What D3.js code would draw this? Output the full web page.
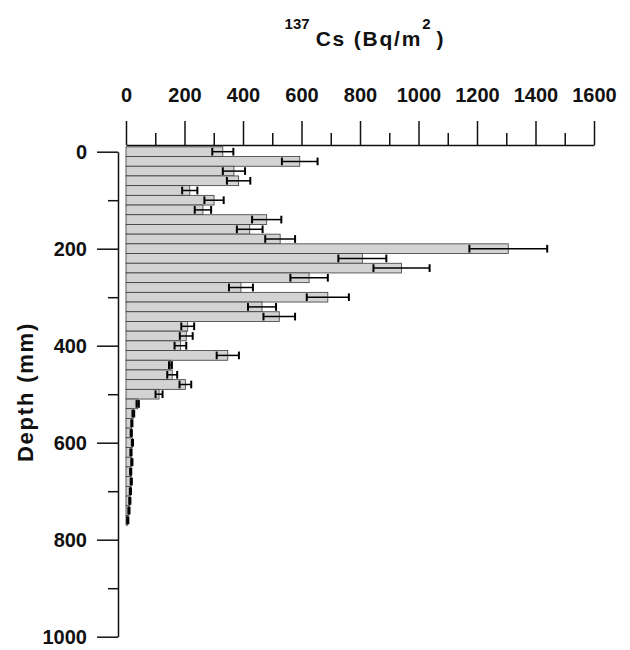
<!DOCTYPE html>
<html lang="en">
<head>
    <meta charset="UTF-8">
    <title>137Cs depth profile</title>
    <script src="https://d3js.org/d3.v7.min.js"></script>
    <style>
        body {
            margin: 0;
            background: #fff;
            font-family: "Liberation Sans", Arial, sans-serif;
        }
        .axis text {
            font-family: "Liberation Sans", Arial, sans-serif;
            font-size: 20px;
            font-weight: bold;
            fill: #111;
        }
        .axis path, .axis line {
            stroke: #111;
            stroke-width: 1.5;
        }
    </style>
</head>
<body>
    <svg id="chart" width="630" height="650"></svg>

    <script>
        // sample mid-depths (mm)
        const depthMid = [0, 20, 40, 60, 80, 100, 120, 140, 160, 180,
                          200, 220, 240, 260, 280, 300, 320, 340, 360, 380,
                          400, 420, 440, 460, 480, 500, 520, 540, 560, 580,
                          600, 620, 640, 660, 680, 700, 720, 740, 760];
        // 137Cs inventory per slice (Bq/m2)
        const activity = [331, 594, 369, 385, 218, 301, 263, 481, 423, 527,
                          1307, 808, 942, 626, 393, 690, 465, 524, 211, 206,
                          186, 348, 152, 158, 203, 113, 40, 25, 20, 18,
                          22, 17, 20, 16, 18, 15, 13, 10, 6];
        // one-sided error (Bq/m2)
        const activityErr = [36, 61, 38, 40, 26, 33, 28, 50, 44, 51,
                             133, 82, 96, 64, 41, 72, 48, 54, 22, 22,
                             20, 38, 5, 17, 20, 12, 4, 3, 2, 2,
                             2, 2, 2, 2, 2, 2, 2, 2, 2];
        const sliceWidth = 20;

        const xTicks = [0, 200, 400, 600, 800, 1000, 1200, 1400, 1600];
        const xMinorTicks = [100, 300, 500, 700, 900, 1100, 1300, 1500];
        const yTicks = [0, 200, 400, 600, 800, 1000];
        const yMinorTicks = [100, 300, 500, 700, 900];

        const svg = d3.select("#chart");

        const x = d3.scaleLinear().domain([0, 1600]).range([126, 594]);
        const y = d3.scaleLinear().domain([0, 1000]).range([151.7, 636.7]);

        const rows = depthMid.map((d, i) => ({ depth: d, value: activity[i], err: activityErr[i] }));

        // bars
        svg.append("g").selectAll("rect")
            .data(rows)
            .enter().append("rect")
            .attr("x", x(0))
            .attr("y", d => y(d.depth - sliceWidth / 2))
            .attr("width", d => x(d.value) - x(0))
            .attr("height", y(sliceWidth) - y(0))
            .attr("fill", "#d3d3d3")
            .attr("stroke", "#3a3a3a")
            .attr("stroke-width", 0.8);

        // error bars
        const errG = svg.append("g").attr("stroke", "#000");
        errG.selectAll(".err-line")
            .data(rows)
            .enter().append("line")
            .attr("class", "err-line")
            .attr("x1", d => x(d.value - d.err))
            .attr("x2", d => x(d.value + d.err))
            .attr("y1", d => y(d.depth))
            .attr("y2", d => y(d.depth))
            .attr("stroke-width", 1.5);
        errG.selectAll(".err-cap")
            .data(rows.flatMap(d => [
                { depth: d.depth, v: d.value - d.err },
                { depth: d.depth, v: d.value + d.err }
            ]))
            .enter().append("line")
            .attr("class", "err-cap")
            .attr("x1", d => x(d.v))
            .attr("x2", d => x(d.v))
            .attr("y1", d => y(d.depth - sliceWidth / 2) + 1)
            .attr("y2", d => y(d.depth + sliceWidth / 2) - 1)
            .attr("stroke-width", 2);

        // top axis
        svg.append("g")
            .attr("class", "axis")
            .attr("transform", "translate(0,145)")
            .call(d3.axisTop(x).tickValues(xTicks).tickFormat(d3.format("d"))
                .tickSize(24).tickSizeOuter(0).tickPadding(19));
        svg.append("g")
            .attr("class", "axis")
            .attr("transform", "translate(0,145)")
            .call(d3.axisTop(x).tickValues(xMinorTicks).tickSize(12).tickFormat(""))
            .call(g => g.select(".domain").remove());

        // left axis
        svg.append("g")
            .attr("class", "axis")
            .attr("transform", "translate(118,0)")
            .call(d3.axisLeft(y).tickValues(yTicks).tickFormat(d3.format("d"))
                .tickSize(21).tickSizeOuter(0).tickPadding(10));
        svg.append("g")
            .attr("class", "axis")
            .attr("transform", "translate(118,0)")
            .call(d3.axisLeft(y).tickValues(yMinorTicks).tickSize(10).tickFormat(""))
            .call(g => g.select(".domain").remove());

        // title
        const title = svg.append("text")
            .attr("x", 364)
            .attr("y", 46)
            .attr("text-anchor", "middle")
            .attr("font-weight", "bold")
            .attr("fill", "#111");
        title.append("tspan").attr("font-size", 15).attr("dy", -17).text("137");
        title.append("tspan").attr("font-size", 21).attr("dy", 17).attr("dx", 6)
            .attr("letter-spacing", 1.8).text("Cs (Bq/m");
        title.append("tspan").attr("font-size", 15).attr("dy", -17).text("2");
        title.append("tspan").attr("font-size", 21).attr("dy", 17).text(" )");

        // y label
        svg.append("text")
            .attr("transform", "translate(33,392) rotate(-90)")
            .attr("text-anchor", "middle")
            .attr("font-size", 22)
            .attr("font-weight", "bold")
            .attr("letter-spacing", 1.8)
            .attr("fill", "#111")
            .text("Depth (mm)");
    </script>
</body>
</html>
